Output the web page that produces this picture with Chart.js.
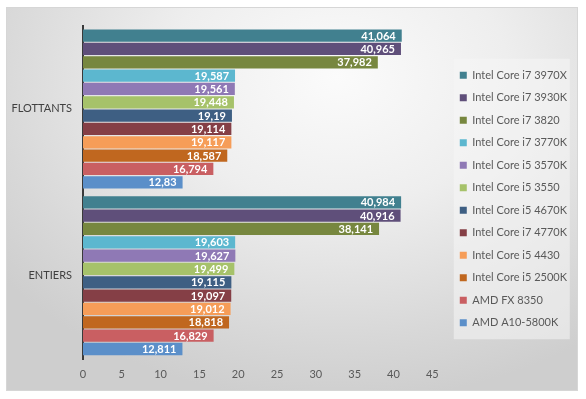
<!DOCTYPE html>
<html>
<head>
<meta charset="utf-8">
<script src="https://cdn.jsdelivr.net/npm/chart.js@4/dist/chart.umd.min.js"></script>
<style>
  html, body { margin: 0; padding: 0; background: #fff; }
  #frame {
    position: absolute; left: 6px; top: 7px; width: 570px; height: 382px;
    border: 1px solid #d6d6d6;
    background: radial-gradient(ellipse 75% 85% at 58% 18%, #fbfbfb 0%, #eeeeee 40%, #d8d8d8 80%, #cecece 100%);
  }
  #canvas { display: block; }
</style>
</head>
<body>
<div id="frame"><canvas id="canvas" width="570" height="382"></canvas></div>
<script>
var categories = ["FLOTTANTS", "ENTIERS"];
var cpuNames = [
  "Intel Core i7 3970X", "Intel Core i7 3930K", "Intel Core i7 3820",
  "Intel Core i7 3770K", "Intel Core i5 3570K", "Intel Core i5 3550",
  "Intel Core i5 4670K", "Intel Core i7 4770K", "Intel Core i5 4430",
  "Intel Core i5 2500K", "AMD FX 8350", "AMD A10-5800K"
];
var flottants = [41.064, 40.965, 37.982, 19.587, 19.561, 19.448, 19.19, 19.114, 19.117, 18.587, 16.794, 12.83];
var entiers   = [40.984, 40.916, 38.141, 19.603, 19.627, 19.499, 19.115, 19.097, 19.012, 18.818, 16.829, 12.811];
var colors = ["#41808f", "#5f4f7a", "#77873f", "#5cb7cf", "#8f79b5", "#a6c26a",
              "#3e5f83", "#853f46", "#f69d58", "#c0671f", "#c95f62", "#5b8fc9"];

var datasets = [];
for (var i = 0; i < cpuNames.length; i++) {
  datasets.push({
    label: cpuNames[i],
    data: [flottants[i], entiers[i]],
    backgroundColor: colors[i],
    barPercentage: 0.92,
    categoryPercentage: 0.96
  });
}

// light box behind the legend
var legendBg = {
  id: "legendBg",
  beforeDraw: function (chart) {
    var lg = chart.legend;
    if (!lg || !lg.legendHitBoxes || !lg.legendHitBoxes.length) return;
    var hb = lg.legendHitBoxes;
    var first = hb[0], last = hb[hb.length - 1];
    var ctx = chart.ctx;
    ctx.save();
    ctx.fillStyle = "rgba(246,246,246,0.55)";
    ctx.fillRect(first.left - 6, first.top - 11, 116, last.top + last.height - first.top + 22);
    ctx.restore();
  }
};

// value labels at the end of each bar
var valueLabels = {
  id: "valueLabels",
  afterDatasetsDraw: function (chart) {
    var ctx = chart.ctx;
    ctx.save();
    ctx.font = "bold 11px Lato";
    ctx.fillStyle = "#ffffff";
    ctx.textAlign = "right";
    ctx.textBaseline = "middle";
    chart.data.datasets.forEach(function (ds, di) {
      chart.getDatasetMeta(di).data.forEach(function (bar, j) {
        var txt = String(ds.data[j]).replace(".", ",");
        ctx.fillText(txt, bar.x - 6, bar.y + 0.5);
      });
    });
    ctx.restore();
  }
};

new Chart(document.getElementById("canvas"), {
  type: "bar",
  data: { labels: categories, datasets: datasets },
  options: {
    indexAxis: "y",
    responsive: false,
    animation: false,
    layout: { padding: { top: 0, left: 0, right: 0, bottom: 0 } },
    scales: {
      x: {
        min: 0, max: 45,
        ticks: { stepSize: 5, color: "#595959", font: { family: "Lato", size: 11 }, padding: 9 },
        grid: { display: false, drawTicks: false },
        border: { display: false },
        afterFit: function (s) { s.height = 31; }
      },
      top: {
        type: "linear", axis: "x", position: "top", display: true,
        ticks: { display: false }, grid: { display: false, drawTicks: false },
        border: { display: false },
        afterFit: function (s) { s.height = 15; }
      },
      y: {
        ticks: { color: "#404040", font: { family: "Lato", size: 11 }, padding: 11 },
        grid: { display: false, drawTicks: false },
        border: { display: true, color: "#3a3a3a", width: 2 },
        afterFit: function (s) { s.width = 76; }
      },
      gap: {
        type: "linear", axis: "y", position: "right", display: true,
        ticks: { display: false }, grid: { display: false, drawTicks: false },
        border: { display: false },
        afterFit: function (s) { s.width = 16; }
      }
    },
    plugins: {
      legend: {
        position: "right",
        maxWidth: 220,
        labels: {
          boxWidth: 7, boxHeight: 7, padding: 11.5,
          color: "#595959", font: { family: "Lato", size: 11 }
        }
      },
      tooltip: { enabled: false }
    }
  },
  plugins: [legendBg, valueLabels]
});
</script>
</body>
</html>
